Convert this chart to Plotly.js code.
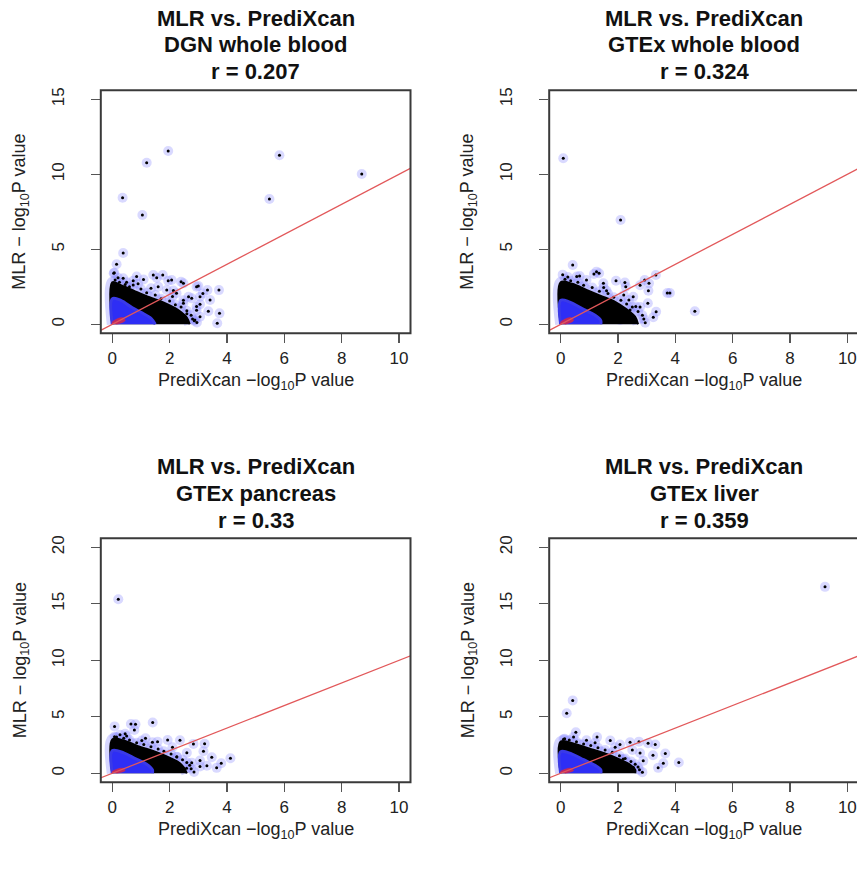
<!DOCTYPE html>
<html>
<head>
<meta charset="utf-8">
<script src="https://cdn.plot.ly/plotly-3.0.1.min.js"></script>
<style>html,body{margin:0;padding:0;background:#fff;}#chart{width:857px;height:870px;}</style>
</head>
<body>
<div id="chart"></div>
<script>
// ---------- data ----------
const titleLine1 = "MLR vs. PrediXcan";
const panelNames = ["DGN whole blood", "GTEx whole blood", "GTEx pancreas", "GTEx liver"];
const rValues = ["0.207", "0.324", "0.33", "0.359"];
const xTickVals = [0, 2, 4, 6, 8, 10];
const yTickValsTop = [0, 5, 10, 15];
const yTickValsBottom = [0, 5, 10, 15, 20];
const xLabel = "PrediXcan \u2212log<sub>10</sub>P value";
const yLabel = "MLR \u2212 log<sub>10</sub>P value";

// identity reference line (abline(0,1))
const refLineX = [-1, 12];
const refLineY = [-1, 12];

// Panel 1: DGN whole blood — sparse points
const p1x = [1.95,1.2,0.36,1.05,5.83,5.48,8.7,0.38,0.15,0.07,
  3.66,3.74,3.35,3.72,3.32,2.86,3.06,1.76,1.95,1.55,2.4,2.94,3.16,2.66,1.09,0.73,0.5,2.13,2.48,2.94,2.6,3.06,
  0.38,0.85,1.43,2.07,2.48,3.0,3.06,3.41,2.77,2.48,2.94,2.88,2.24,1.9,1.6,0.73,0.05,
  0.1,0.25,0.45,0.6,1.0,1.2,1.5,1.7,2.0,2.2,2.4,2.6,2.75,2.8,2.95,2.1,2.35,1.35,0.9,0.2];
const p1y = [11.55,10.77,8.44,7.29,11.27,8.35,10.02,4.75,4.0,3.44,
  0.07,0.73,0.87,2.28,2.28,0.24,1.33,3.29,2.9,3.1,2.84,2.5,2.06,1.84,2.99,2.9,2.8,2.25,1.6,0.94,0.7,0.51,
  3.07,3.18,3.29,2.95,2.73,2.55,1.84,1.62,1.73,1.4,1.18,0.29,2.07,2.29,2.51,2.62,3.4,
  2.95,2.8,2.65,2.5,2.35,2.1,1.95,1.7,1.55,1.3,1.15,0.9,0.6,0.35,0.12,1.85,0.55,2.4,2.7,3.1];
// dense cores (outline of the dark mass and of the blue peak)
const core1x = [0,0,0.3,0.8,1.3,1.8,2.3,2.6,2.7];
const core1y = [0,2.8,2.6,2.2,1.8,1.45,0.95,0.45,0];
const blue1x = [0,0,0.3,0.7,1.0,1.35,1.5];
const blue1y = [0,1.7,1.6,1.1,0.8,0.4,0];

// Panel 2: GTEx whole blood
const p2x = [0.09,2.09,0.42,4.68,
  3.72,3.81,3.32,3.23,3.33,3.04,3.06,2.93,2.77,2.24,1.93,1.25,1.16,0.66,0.56,0.07,1.6,2.53,2.42,2.77,2.07,1.84,0.9,1.49,3.08,2.27,2.38,2.62,1.34,
  0.15,0.35,0.6,0.8,1.1,1.35,1.65,1.85,2.1,2.3,2.5,2.7,2.85,2.9,2.95,2.2,1.5,0.25];
const p2y = [11.07,6.95,3.95,0.87,
  2.09,2.09,3.29,0.47,0.84,1.4,2.24,2.95,2.6,2.78,2.9,3.51,3.35,3.22,3.18,3.31,2.24,1.84,0.95,1.16,0.29,0.73,2.96,2.73,2.73,2.51,1.62,1.18,3.4,
  3.0,2.9,2.8,2.6,2.45,2.2,2.05,1.8,1.6,1.35,1.15,0.85,0.6,0.35,0.1,1.95,2.45,3.15];
const core2x = [0,0,0.4,0.9,1.4,1.9,2.3,2.6,2.7];
const core2y = [0,2.8,2.7,2.3,1.9,1.5,1.0,0.5,0];
const blue2x = [0,0,0.3,0.8,1.2,1.4,1.4];
const blue2y = [0,1.6,1.5,1.0,0.6,0.25,0];

// Panel 3: GTEx pancreas
const p3x = [0.21,1.41,0.08,0.65,0.81,0.77,0.45,
  4.12,3.8,3.64,3.47,3.22,3.18,3.06,2.36,1.93,1.58,1.16,1.03,2.83,2.6,2.25,2.77,2.59,3.3,0.08,0.27,3.06,
  0.15,0.4,0.6,0.85,1.1,1.35,1.6,1.8,2.05,2.25,2.45,2.6,2.7,2.75,2.85,2.1,1.4,0.5];
const p3y = [15.4,4.5,4.15,4.36,4.33,3.83,3.5,
  1.33,0.88,0.48,1.42,2.62,1.95,1.12,2.92,2.95,2.8,3.09,2.9,2.6,1.82,1.47,0.94,0.44,0.67,3.24,3.4,0.6,
  3.2,3.1,2.95,2.7,2.55,2.35,2.15,1.95,1.7,1.45,1.2,0.95,0.7,0.4,0.12,2.3,2.75,3.3];
const core3x = [0,0,0.4,0.9,1.4,1.9,2.3,2.5,2.6];
const core3y = [0,3.0,2.9,2.4,2.0,1.5,1.0,0.5,0];
const blue3x = [0,0,0.4,0.8,1.2,1.4,1.4];
const blue3y = [0,2.0,1.8,1.3,0.8,0.3,0];

// Panel 4: GTEx liver
const p4x = [9.22,0.42,0.21,0.53,
  4.12,3.58,3.4,3.65,3.22,3.3,3.05,2.42,2.73,2.07,1.73,1.27,0.9,0.14,2.77,2.88,2.53,2.18,2.5,
  0.1,0.3,0.55,0.8,1.05,1.3,1.55,1.8,2.05,2.25,2.45,2.6,2.7,2.75,2.85,1.9,1.2,0.45];
const p4y = [16.5,6.45,5.31,3.62,
  0.95,0.88,0.48,1.75,1.6,2.55,2.66,2.75,2.8,2.55,2.9,3.2,2.92,3.05,1.8,1.1,0.53,1.27,2.06,
  3.0,2.95,2.8,2.6,2.45,2.25,2.05,1.85,1.55,1.3,1.05,0.8,0.55,0.3,0.1,2.3,2.7,3.2];
const core4x = [0,0,0.5,1.0,1.5,2.0,2.4,2.6,2.6];
const core4y = [0,2.8,2.6,2.2,1.8,1.3,0.8,0.3,0];
const blue4x = [0,0,0.4,0.8,1.2,1.4,1.4];
const blue4y = [0,1.9,1.7,1.2,0.7,0.3,0];

const redCoreX = [0,0,0.35,0.45,0.15];
const redCoreY = [0,0.15,0.45,0.25,0];

// ---------- build ----------
const fontFam = '"Liberation Sans", Arial, Helvetica, sans-serif';
const W = 857, H = 870;
const panels = [
  {px:p1x, py:p1y, cx:core1x, cy:core1y, bx:blue1x, by:blue1y, ax:'x',  ay:'y'},
  {px:p2x, py:p2y, cx:core2x, cy:core2y, bx:blue2x, by:blue2y, ax:'x2', ay:'y2'},
  {px:p3x, py:p3y, cx:core3x, cy:core3y, bx:blue3x, by:blue3y, ax:'x3', ay:'y3'},
  {px:p4x, py:p4y, cx:core4x, cy:core4y, bx:blue4x, by:blue4y, ax:'x4', ay:'y4'}
];

const traces = [];
panels.forEach(p => {
  const base = {xaxis:p.ax, yaxis:p.ay, showlegend:false, hoverinfo:'skip'};
  traces.push(Object.assign({}, base, {x:p.cx, y:p.cy, mode:'lines', fill:'toself',
    fillcolor:'rgba(180,180,255,0.55)', line:{color:'rgba(180,180,255,0.55)', width:11, shape:'spline'}}));
  traces.push(Object.assign({}, base, {x:p.px, y:p.py, mode:'markers',
    marker:{size:10, color:'rgba(140,140,255,0.33)', line:{width:0}}}));
  traces.push(Object.assign({}, base, {x:p.cx, y:p.cy, mode:'lines', fill:'toself',
    fillcolor:'#000', line:{color:'#000', width:2, shape:'spline'}}));
  traces.push(Object.assign({}, base, {x:p.bx, y:p.by, mode:'lines', fill:'toself',
    fillcolor:'#2e2ef5', line:{color:'#3a3ae8', width:3, shape:'spline'}}));
  traces.push(Object.assign({}, base, {x:redCoreX, y:redCoreY, mode:'lines', fill:'toself',
    fillcolor:'rgba(225,40,60,0.8)', line:{color:'rgba(225,40,60,0.5)', width:1, shape:'spline'}}));
  traces.push(Object.assign({}, base, {x:p.px, y:p.py, mode:'markers',
    marker:{size:3, color:'#000'}}));
  traces.push(Object.assign({}, base, {x:refLineX, y:refLineY, mode:'lines',
    line:{color:'#e2585a', width:1.3}}));
});

// geometry (pixels)
const leftDom = [100.8/W, 410.5/W];
const rightDom = [549.2/W, 1];
const topDom = [1-333.3/H, 1-90.3/H];
const botDom = [1-782.3/H, 1-538.3/H];

function xax(dom, range) {
  return {domain:dom, range:range, tickvals:xTickVals, ticktext:xTickVals.map(String),
    ticks:'outside', ticklen:9, tickwidth:1.3, tickcolor:'#555', showgrid:false, zeroline:false,
    showline:false, tickfont:{family:fontFam, size:17, color:'#222'}, fixedrange:true};
}
function yax(dom, range, vals) {
  return {domain:dom, range:range, tickvals:vals, ticktext:vals.map(String), tickangle:-90,
    ticks:'outside', ticklen:9, tickwidth:1.3, tickcolor:'#555', showgrid:false, zeroline:false,
    showline:false, ticklabelstandoff:20, tickfont:{family:fontFam, size:17, color:'#222'}, fixedrange:true};
}

const rightRangeMax = -0.4 + (W - 549.2)/28.67;
const layout = {
  width:W, height:H, margin:{l:0, r:0, t:0, b:0}, paper_bgcolor:'#fff', plot_bgcolor:'#fff',
  showlegend:false,
  xaxis: Object.assign(xax(leftDom, [-0.4, 10.4]), {anchor:'y'}),   yaxis: Object.assign(yax(topDom, [-0.6, 15.6], yTickValsTop), {anchor:'x'}),
  xaxis2: Object.assign(xax(rightDom, [-0.4, rightRangeMax]), {anchor:'y2'}), yaxis2: Object.assign(yax(topDom, [-0.6, 15.6], yTickValsTop), {anchor:'x2'}),
  xaxis3: Object.assign(xax(leftDom, [-0.4, 10.4]), {anchor:'y3'}),  yaxis3: Object.assign(yax(botDom, [-0.8, 20.8], yTickValsBottom), {anchor:'x3'}),
  xaxis4: Object.assign(xax(rightDom, [-0.4, rightRangeMax]), {anchor:'y4'}), yaxis4: Object.assign(yax(botDom, [-0.8, 20.8], yTickValsBottom), {anchor:'x4'}),
  shapes: [], annotations: []
};

const boxX1Right = (858.9 - 549.2)/(W - 549.2);
const ids = [['x','y',1],['x2','y2',boxX1Right],['x3','y3',1],['x4','y4',boxX1Right]];
ids.forEach(([a,b,x1]) => {
  layout.shapes.push({type:'rect', xref:a+' domain', yref:b+' domain', x0:0, x1:x1, y0:0, y1:1,
    line:{color:'#3a3a3a', width:2}, fillcolor:'rgba(0,0,0,0)', layer:'above'});
});

// titles and axis labels
const centersX = [255.6, 704, 255.6, 704];
const titleTops = [18, 18, 466, 466];
const yLabelX = [21, 469, 21, 469];
const boxMidY = [211.8, 211.8, 660.3, 660.3];
const xLabelY = [381, 381, 830, 830];
panelNames.forEach((name, i) => {
  const lines = [titleLine1, name, 'r = ' + rValues[i]];
  lines.forEach((t, k) => {
    layout.annotations.push({xref:'paper', yref:'paper', x:centersX[i]/W, y:1-(titleTops[i]+27*k)/H,
      xanchor:'center', yanchor:'middle', showarrow:false, text:'<b>'+t+'</b>',
      font:{family:fontFam, size:22, color:'#111'}});
  });
  layout.annotations.push({xref:'paper', yref:'paper', x:yLabelX[i]/W, y:1-boxMidY[i]/H,
    xanchor:'center', yanchor:'middle', showarrow:false, text:yLabel, textangle:-90,
    font:{family:fontFam, size:18, color:'#222'}});
  layout.annotations.push({xref:'paper', yref:'paper', x:centersX[i]/W, y:1-xLabelY[i]/H,
    xanchor:'center', yanchor:'middle', showarrow:false, text:xLabel,
    font:{family:fontFam, size:18, color:'#222'}});
});

Plotly.newPlot('chart', traces, layout, {staticPlot:true, displayModeBar:false});
</script>
</body>
</html>
